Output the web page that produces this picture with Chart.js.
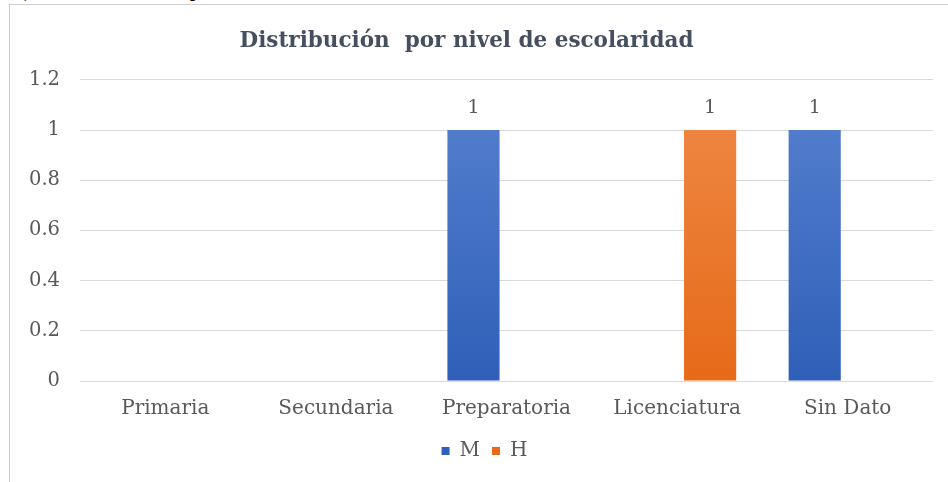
<!DOCTYPE html>
<html>
<head>
<meta charset="utf-8">
<script src="https://cdn.jsdelivr.net/npm/chart.js@4.4.1/dist/chart.umd.min.js"></script>
<style>
  html, body { margin: 0; padding: 0; background: #ffffff; }
  #wrap { position: relative; width: 948px; height: 482px; overflow: hidden; background: #ffffff; }
  #frame { position: absolute; left: 9px; top: 4px; width: 960px; height: 500px;
           border-left: 1px solid #d0d0d0; border-top: 1px solid #d0d0d0; box-sizing: border-box; }
  #cut { position: absolute; left: 0; top: -19px; font: bold 18px "Liberation Serif", serif; color: #000; white-space: pre; }
  canvas { position: absolute; left: 0; top: 0; }
</style>
</head>
<body>
<div id="wrap">
  <div id="frame"></div>
  <div id="cut"><span style="position:absolute;left:24px;">)</span><span style="position:absolute;left:190px;">p</span></div>
  <canvas id="c" width="948" height="482"></canvas>
</div>
<script>
const categories = ["Primaria", "Secundaria", "Preparatoria", "Licenciatura", "Sin Dato"];
const seriesM = [null, null, 1, null, 1];
const seriesH = [null, null, null, 1, null];
const yTicks = [0, 0.2, 0.4, 0.6, 0.8, 1, 1.2];
const titleText = "Distribución  por nivel de escolaridad";

const SERIF = "'DejaVu Serif', 'Liberation Serif', serif";

function grad(top, bottom) {
  return function(ctx) {
    const chart = ctx.chart;
    const area = chart.chartArea;
    if (!area) return bottom;
    const g = chart.ctx.createLinearGradient(0, area.top, 0, area.bottom);
    g.addColorStop(0, top);
    g.addColorStop(1, bottom);
    return g;
  };
}

const labelPlugin = {
  id: 'barValueLabels',
  afterDatasetsDraw(chart) {
    const ctx = chart.ctx;
    ctx.save();
    ctx.font = "19px " + SERIF;
    ctx.fillStyle = "#595959";
    ctx.textAlign = "center";
    ctx.textBaseline = "bottom";
    chart.data.datasets.forEach((ds, i) => {
      const meta = chart.getDatasetMeta(i);
      meta.data.forEach((bar, j) => {
        const v = ds.data[j];
        if (v === null || v === undefined) return;
        ctx.fillText(String(v), bar.x, bar.y - 12);
      });
    });
    ctx.restore();
  }
};

// shift the legend block a little to the right, as in the reference
const legendShift = {
  id: 'legendShift',
  beforeDraw(chart) {
    const lg = chart.legend;
    if (!lg) return;
    if (lg._origLeft === undefined || lg._shiftedLeft !== lg.left) {
      lg._origLeft = lg.left;
      lg.left += 18;
      lg.right += 18;
      lg._shiftedLeft = lg.left;
    }
  }
};

new Chart(document.getElementById('c'), {
  type: 'bar',
  data: {
    labels: categories,
    datasets: [
      { label: "M", data: seriesM, backgroundColor: grad("#5882d0", "#2f5fb8"),
        barPercentage: 0.79, categoryPercentage: 0.774 },
      { label: "H", data: seriesH, backgroundColor: grad("#ef8a47", "#e66a18"),
        barPercentage: 0.79, categoryPercentage: 0.774 }
    ]
  },
  options: {
    responsive: false,
    animation: false,
    layout: { padding: { left: 0, right: 15, top: 29, bottom: 11 } },
    plugins: {
      title: {
        display: true, text: titleText, color: "#454f5f",
        font: { family: SERIF, size: 21.5, weight: 'bold' },
        padding: { top: 0, bottom: 25 }
      },
      legend: {
        position: 'bottom',
        labels: {
          color: "#595959", font: { family: SERIF, size: 20 },
          boxWidth: 8, boxHeight: 8, padding: 12
        }
      },
      tooltip: { enabled: false }
    },
    scales: {
      x: {
        grid: { display: false },
        border: { display: false },
        ticks: { color: "#595959", font: { family: SERIF, size: 20 }, padding: 8 }
      },
      y: {
        min: 0, max: 1.2,
        afterFit(scale) { scale.width = 80; },
        afterBuildTicks(scale) { scale.ticks = yTicks.map(v => ({ value: v })); },
        grid: { color: "#d9d9d9", drawTicks: false },
        border: { display: false },
        ticks: { color: "#595959", font: { family: SERIF, size: 19.5 }, padding: 20,
                 callback: (v) => String(Number(Number(v).toFixed(1))) }
      }
    }
  },
  plugins: [labelPlugin, legendShift]
});
</script>
</body>
</html>
